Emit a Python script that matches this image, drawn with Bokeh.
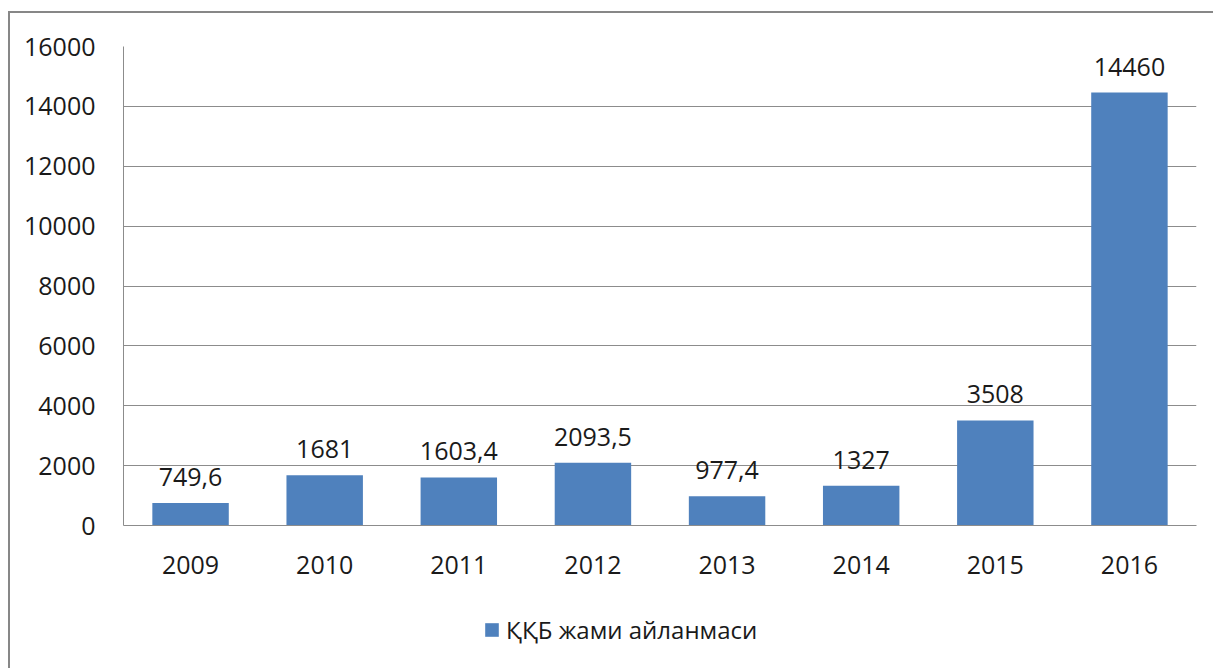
from bokeh.plotting import figure
from bokeh.layouts import column
from bokeh.models import ColumnDataSource, Range1d, SingleIntervalTicker, Legend, LegendItem
from bokeh.core.properties import value
from bokeh.embed import file_html
from bokeh.resources import INLINE

years = ["2009", "2010", "2011", "2012", "2013", "2014", "2015", "2016"]
values = [749.6, 1681, 1603.4, 2093.5, 977.4, 1327, 3508, 14460]
labels = ["749,6", "1681", "1603,4", "2093,5", "977,4", "1327", "3508", "14460"]
series_name = "ҚҚБ жами айланмаси"

FONT = "Open Sans"
BAR = "#4F81BD"
GRID = "#8c8c8c"

src = ColumnDataSource(dict(x=years, y=values, lab=labels))

p = figure(x_range=years, y_range=Range1d(0, 16000), width=1203, height=574,
           output_backend="svg", toolbar_location=None,
           min_border_left=113, min_border_right=17, min_border_top=33, min_border_bottom=62)
p.outline_line_color = None

r = p.vbar(x="x", top="y", width=0.57, source=src, fill_color=BAR, line_color=None)
p.text(x="x", y="y", text="lab", source=src, y_offset=-17, text_align="center",
       text_baseline="bottom", text_font=value(FONT), text_font_size="25px", text_color="#1a1a1a")

p.yaxis.ticker = SingleIntervalTicker(interval=2000)
for ax in (p.xaxis[0], p.yaxis[0]):
    ax.axis_line_color = GRID
    ax.major_tick_line_color = None
    ax.minor_tick_line_color = None
    ax.major_label_text_font = FONT
    ax.major_label_text_font_size = "25px"
    ax.major_label_text_color = "#1a1a1a"
p.yaxis.major_label_standoff = 22
p.xaxis.major_label_standoff = 24

p.xgrid.grid_line_color = None
p.ygrid.grid_line_color = GRID
p.ygrid.grid_line_width = 1

# legend strip below the chart (its bar renderer lies outside the visible range)
p2 = figure(width=1203, height=81, output_backend="svg", toolbar_location=None,
            x_axis_type=None, y_axis_type=None, min_border=0,
            x_range=years, y_range=Range1d(100000, 100001))
p2.outline_line_color = None
p2.grid.grid_line_color = None
r2 = p2.vbar(x="x", top="y", width=0.57, source=src, fill_color=BAR, line_color=None)
legend = Legend(items=[LegendItem(label=series_name, renderers=[r2])], location=(360, 22),
                orientation="horizontal", label_text_font=FONT, label_text_font_size="24px",
                label_text_color="#1a1a1a", glyph_width=17, glyph_height=17,
                border_line_color=None, background_fill_alpha=0, margin=0, padding=0,
                label_standoff=6)
p2.add_layout(legend, "center")

layout = column(p, p2, spacing=0)
layout.margin = (11, 0, 0, 8)
layout.styles = {"border-top": "2px solid #878787", "border-left": "2px solid #878787"}

open("out.html", "w").write(file_html(layout, INLINE))
